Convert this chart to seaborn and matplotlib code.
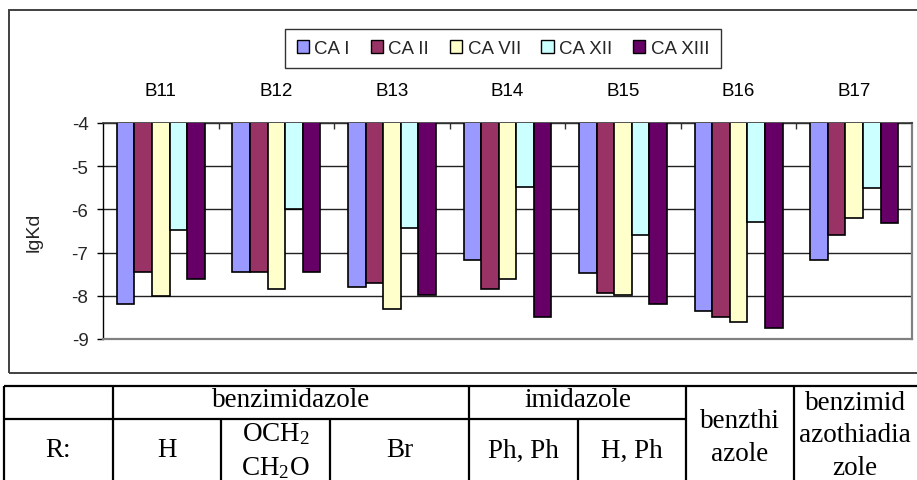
import numpy as np
import pandas as pd
import matplotlib
matplotlib.use("Agg")
import matplotlib.pyplot as plt
import seaborn as sns
from matplotlib.patches import Rectangle, Patch

# ---------------- data ----------------
compounds = ["B11", "B12", "B13", "B14", "B15", "B16", "B17"]
isoforms = ["CA I", "CA II", "CA VII", "CA XII", "CA XIII"]
ca_i    = [-8.18, -7.46, -7.80, -7.18, -7.47, -8.35, -7.18]
ca_ii   = [-7.46, -7.46, -7.71, -7.85, -7.94, -8.48, -6.60]
ca_vii  = [-8.01, -7.85, -8.31, -7.60, -7.98, -8.60, -6.21]
ca_xii  = [-6.47, -6.00, -6.43, -5.47, -6.59, -6.30, -5.50]
ca_xiii = [-7.60, -7.46, -7.97, -8.48, -8.18, -8.74, -6.31]
colors = ["#9999FF", "#993366", "#FFFFCC", "#CCFFFF", "#660066"]
y_ticks = [-9, -8, -7, -6, -5, -4]
y_label = "lgKd"

table_groups = ["benzimidazole", "imidazole"]
table_r = ["R:", "H", "OCH$_2$\nCH$_2$O", "Br", "Ph, Ph", "H, Ph"]
table_tall = ["benzthi\nazole", "benzimid\nazothiadia\nzole"]

series = [ca_i, ca_ii, ca_vii, ca_xii, ca_xiii]
df = pd.DataFrame({
    "compound": np.repeat([compounds], len(isoforms), axis=0).ravel(),
    "isoform": np.repeat(isoforms, len(compounds)),
    "lgKd": np.concatenate(series),
})

# ---------------- style ----------------
sns.set_theme(style="white")
plt.rcParams["font.family"] = ["Liberation Sans", "DejaVu Sans"]
plt.rcParams["mathtext.fontset"] = "custom"
plt.rcParams["mathtext.rm"] = "Liberation Serif"
plt.rcParams["mathtext.it"] = "Liberation Serif:italic"

W, H = 917, 481
fig = plt.figure(figsize=(W / 100, H / 100), dpi=100)
fig.patch.set_facecolor("white")

L, R, T, B = 103, 912, 124, 340
ax = fig.add_axes([L / W, 1 - B / H, (R - L) / W, (B - T) / H])

sns.barplot(data=df, x="compound", y="lgKd", hue="isoform", order=compounds,
            hue_order=isoforms, palette=colors, width=0.76, edgecolor="black",
            linewidth=1.2, saturation=1, legend=False, ax=ax, zorder=3)

ax.set_ylim(y_ticks[0], y_ticks[-1])
ax.set_xlim(-0.5, len(compounds) - 0.5)
ax.set_yticks(y_ticks)
ax.set_yticklabels([str(v) for v in y_ticks])
ax.yaxis.grid(True, color="#222222", lw=1.0, zorder=0)
ax.xaxis.grid(False)
ax.set_axisbelow(True)

ax.xaxis.tick_top()
ax.set_xlabel("")
ax.set_xticks(range(len(compounds)))
ax.set_xticklabels(compounds)
ax.set_xticks(np.arange(0.5, len(compounds) - 0.5, 1), minor=True)
ax.tick_params(axis="x", which="major", length=0, pad=17, labelsize=13.5,
               colors="black", top=True, bottom=False)
ax.tick_params(axis="x", which="minor", direction="in", length=4, width=1,
               color="#333333", top=True, bottom=False)
ax.tick_params(axis="y", which="major", direction="out", length=4.5, width=1,
               color="black", left=True, pad=6, labelsize=13.5)

ax.set_ylabel(y_label, fontsize=14)
ax.yaxis.set_label_coords((43 - L) / (R - L), 0.5)

for side in ["left", "top", "right", "bottom"]:
    ax.spines[side].set_visible(True)
ax.spines["left"].set_color("black")
ax.spines["left"].set_linewidth(1.0)
ax.spines["top"].set_color("#333333")
ax.spines["top"].set_linewidth(1.2)
ax.spines["right"].set_color("#808080")
ax.spines["right"].set_linewidth(1.6)
ax.spines["bottom"].set_color("#808080")
ax.spines["bottom"].set_linewidth(1.6)

# legend
handles = [Patch(facecolor=c, edgecolor="black", lw=1.0) for c in colors]
leg = fig.legend(handles, isoforms, loc="center",
                 bbox_to_anchor=(503 / W, 1 - 49.5 / H), ncol=5,
                 frameon=True, fancybox=False, edgecolor="black",
                 handlelength=0.65, handleheight=0.65, handletextpad=0.3,
                 columnspacing=1.1, fontsize=13.5, borderpad=0.6)
leg.get_frame().set_linewidth(1.0)

# outer chart frame
fig.patches.append(Rectangle((9 / W, 1 - 374 / H), (940 - 9) / W, (374 - 11) / H,
                             transform=fig.transFigure, fill=False,
                             ec="#404040", lw=1.4, clip_on=False))

# ---------------- table below ----------------
tax = fig.add_axes([0, 0, 1, 1])
tax.set_xlim(0, W)
tax.set_ylim(H, 0)
tax.axis("off")
tax.patch.set_alpha(0)

lk = dict(color="black", lw=1.6, solid_capstyle="butt")
y_top, y_mid, y_bot = 387, 419.5, 500
tax.plot([4, 940], [y_top, y_top], **lk)
tax.plot([4, 686], [y_mid, y_mid], **lk)
for x in [4, 113, 469, 686, 794]:
    tax.plot([x, x], [y_top, y_bot], **lk)
for x in [221, 330, 578]:
    tax.plot([x, x], [y_mid, y_bot], **lk)

tk = dict(family="Liberation Serif", fontsize=19.5, ha="center", va="center",
          color="black")
group_spans = [(113, 469), (469, 686)]
for lab, (a, b) in zip(table_groups, group_spans):
    tax.text((a + b) / 2, 401, lab, **tk)

r_spans = [(4, 113), (113, 221), (221, 330), (330, 469), (469, 578), (578, 686)]
for lab, (a, b) in zip(table_r, r_spans):
    tax.text((a + b) / 2, 451, lab, linespacing=1.42, **tk)

tall_spans = [(686, 794), (794, 916)]
tall_y = [438, 436]
for lab, (a, b), yy in zip(table_tall, tall_spans, tall_y):
    tax.text((a + b) / 2, yy, lab, linespacing=1.38, **tk)

fig.savefig("out.png", dpi=100)
